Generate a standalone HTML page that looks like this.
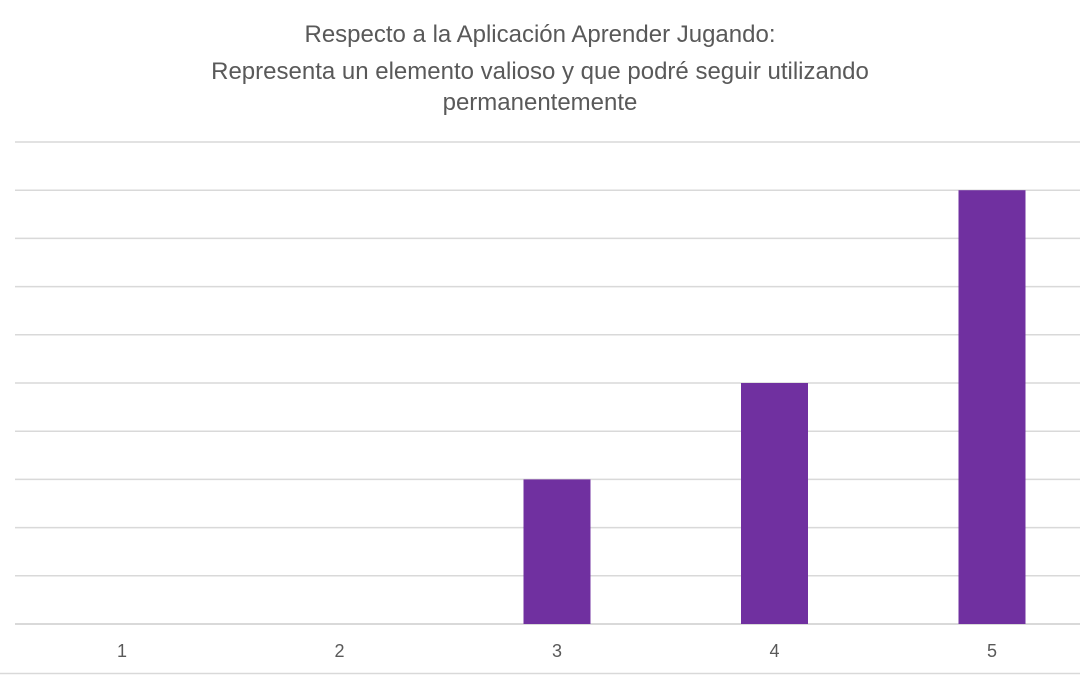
<!DOCTYPE html>
<html><head><meta charset="utf-8"><style>
html,body{margin:0;padding:0;background:#fff;}
body{width:1080px;height:675px;overflow:hidden;font-family:"Liberation Sans",Arial,sans-serif;}
</style></head><body>
<svg id="chart" width="1080" height="675" xmlns="http://www.w3.org/2000/svg">
<g fill="#595959" font-size="24" text-anchor="middle" font-family="Liberation Sans, Arial, sans-serif">
<text x="540" y="42">Respecto a la Aplicación Aprender Jugando:</text>
<text x="540" y="79">Representa un elemento valioso y que podré seguir utilizando</text>
<text x="540" y="110">permanentemente</text>
</g>
<g id="grid"></g>
<g id="bars"></g>
<g id="xlabels"></g>
<line x1="0" x2="1080" y1="673.5" y2="673.5" stroke="#d9d9d9" stroke-width="1.5"/>
</svg>
<script>
const categories = ["1","2","3","4","5"];
const values = [0,0,3,5,9];
const yMax = 10;
const yTicks = [0,1,2,3,4,5,6,7,8,9,10];

const NS="http://www.w3.org/2000/svg";
const plotLeft=13.25, step=217.5, plotTop=142, plotBottom=624;
const yScale=v=>plotBottom-(v/yMax)*(plotBottom-plotTop);
const xc=i=>plotLeft+step*(i+0.5);
const barW=67;
const grid=document.getElementById('grid');
yTicks.forEach(t=>{
  const l=document.createElementNS(NS,'line');
  
  
  l.setAttribute('x1',15);l.setAttribute('x2',1080);
  l.setAttribute('y1',yScale(t));l.setAttribute('y2',yScale(t));
  l.setAttribute('stroke','#d9d9d9');l.setAttribute('stroke-width',t===0?2:1.5);
  grid.appendChild(l);
});
const bars=document.getElementById('bars');
values.forEach((v,i)=>{
  if(v<=0) return;
  const r=document.createElementNS(NS,'rect');
  
  
  r.setAttribute('x',xc(i)-barW/2);r.setAttribute('width',barW);
  r.setAttribute('y',yScale(v));r.setAttribute('height',plotBottom-yScale(v));
  r.setAttribute('fill','#7030a0');
  bars.appendChild(r);
});
const xl=document.getElementById('xlabels');
categories.forEach((c,i)=>{
  const t=document.createElementNS(NS,'text');
  
  
  t.setAttribute('x',xc(i));t.setAttribute('y',657);
  t.setAttribute('text-anchor','middle');t.setAttribute('font-size','18');
  t.setAttribute('fill','#595959');
  t.textContent=c;
  xl.appendChild(t);
});
</script>
</body></html>
